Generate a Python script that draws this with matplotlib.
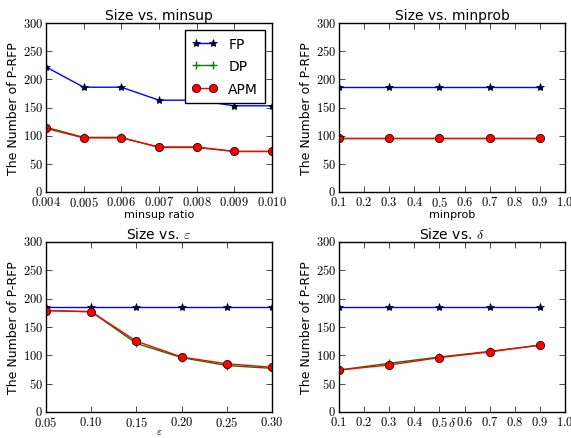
import numpy as np
import matplotlib
matplotlib.use("Agg")
import matplotlib.pyplot as plt

plt.style.use("classic")
plt.rcParams["mathtext.fontset"] = "cm"

# data
minsup = [0.004, 0.005, 0.006, 0.007, 0.008, 0.009, 0.010]
fp_minsup = [222, 186, 186, 163, 163, 153, 153]
dp_minsup = [115, 97, 97, 79, 79, 72, 72]
apm_minsup = [113, 96, 96, 80, 80, 72, 72]

minprob = [0.1, 0.3, 0.5, 0.7, 0.9]
fp_minprob = [186, 186, 186, 186, 186]
dp_minprob = [96, 96, 96, 96, 96]
apm_minprob = [96, 96, 96, 96, 96]

eps = [0.05, 0.10, 0.15, 0.20, 0.25, 0.30]
fp_eps = [186, 186, 186, 186, 186, 186]
dp_eps = [179, 177, 121, 96, 82, 77]
apm_eps = [179, 177, 125, 97, 85, 79]

delta = [0.1, 0.3, 0.5, 0.7, 0.9]
fp_delta = [186, 186, 186, 186, 186]
dp_delta = [74, 86, 97, 107, 118]
apm_delta = [74, 83, 96, 106, 118]

yticks = [0, 50, 100, 150, 200, 250, 300]

fig = plt.figure(figsize=(5.71, 4.39), dpi=100, facecolor="white")
W, H = 571.0, 439.0


def make_ax(x0, x1, ytop, ybot):
    return fig.add_axes([x0 / W, 1 - ybot / H, (x1 - x0) / W, (ybot - ytop) / H])


panels = [
    (make_ax(46, 272, 24, 193), minsup, fp_minsup, dp_minsup, apm_minsup,
     "Size vs. minsup", "minsup ratio", 8, -0.13, (0.004, 0.010),
     [0.004, 0.005, 0.006, 0.007, 0.008, 0.009, 0.010], "%.3f"),
    (make_ax(339, 565, 24, 193), minprob, fp_minprob, dp_minprob, apm_minprob,
     "Size vs. minprob", "minprob", 8, -0.13, (0.1, 1.0),
     [0.1, 0.2, 0.3, 0.4, 0.5, 0.6, 0.7, 0.8, 0.9, 1.0], "%.1f"),
    (make_ax(46, 272, 243, 413), eps, fp_eps, dp_eps, apm_eps,
     r"Size vs. $\varepsilon$", r"$\varepsilon$", 8, -0.11, (0.05, 0.30),
     [0.05, 0.10, 0.15, 0.20, 0.25, 0.30], "%.2f"),
    (make_ax(339, 565, 243, 413), delta, fp_delta, dp_delta, apm_delta,
     r"Size vs. $\delta$", r"$\delta$", 10, -0.06, (0.1, 1.0),
     [0.1, 0.2, 0.3, 0.4, 0.5, 0.6, 0.7, 0.8, 0.9, 1.0], "%.1f"),
]

for i, (ax, x, fp, dp, apm, title, xlabel, xlsize, xly, xlim, xticks, fmt) in enumerate(panels):
    ax.plot(x, fp, color="blue", lw=1, marker="*", markersize=6,
            markerfacecolor="#000060", markeredgecolor="black", label="FP")
    ax.plot(x, dp, color="green", lw=1, marker="+", markersize=6,
            markeredgewidth=1, label="DP")
    ax.plot(x, apm, color="red", lw=1, marker="o", markersize=6,
            markeredgecolor="black", label="APM")
    ax.set_xlim(*xlim)
    ax.set_ylim(0, 300)
    ax.set_xticks(xticks)
    ax.set_xticklabels(["$%s$" % (fmt % t) for t in xticks])
    ax.set_yticks(yticks)
    ax.set_yticklabels(["$%d$" % t for t in yticks])
    ax.tick_params(labelsize=9, pad=2)
    ax.set_title(title, fontsize=10, pad=3)
    ax.set_xlabel(xlabel, fontsize=xlsize, va="center")
    ax.xaxis.set_label_coords(0.5, xly)
    ax.set_ylabel("The Number of P-RFP", fontsize=9, labelpad=2)
    if i == 0:
        ax.legend(loc="upper right", fontsize=10, numpoints=2,
                  handlelength=1.8, borderpad=0.5, labelspacing=0.6)

fig.savefig("out.png", dpi=100, facecolor="white")
